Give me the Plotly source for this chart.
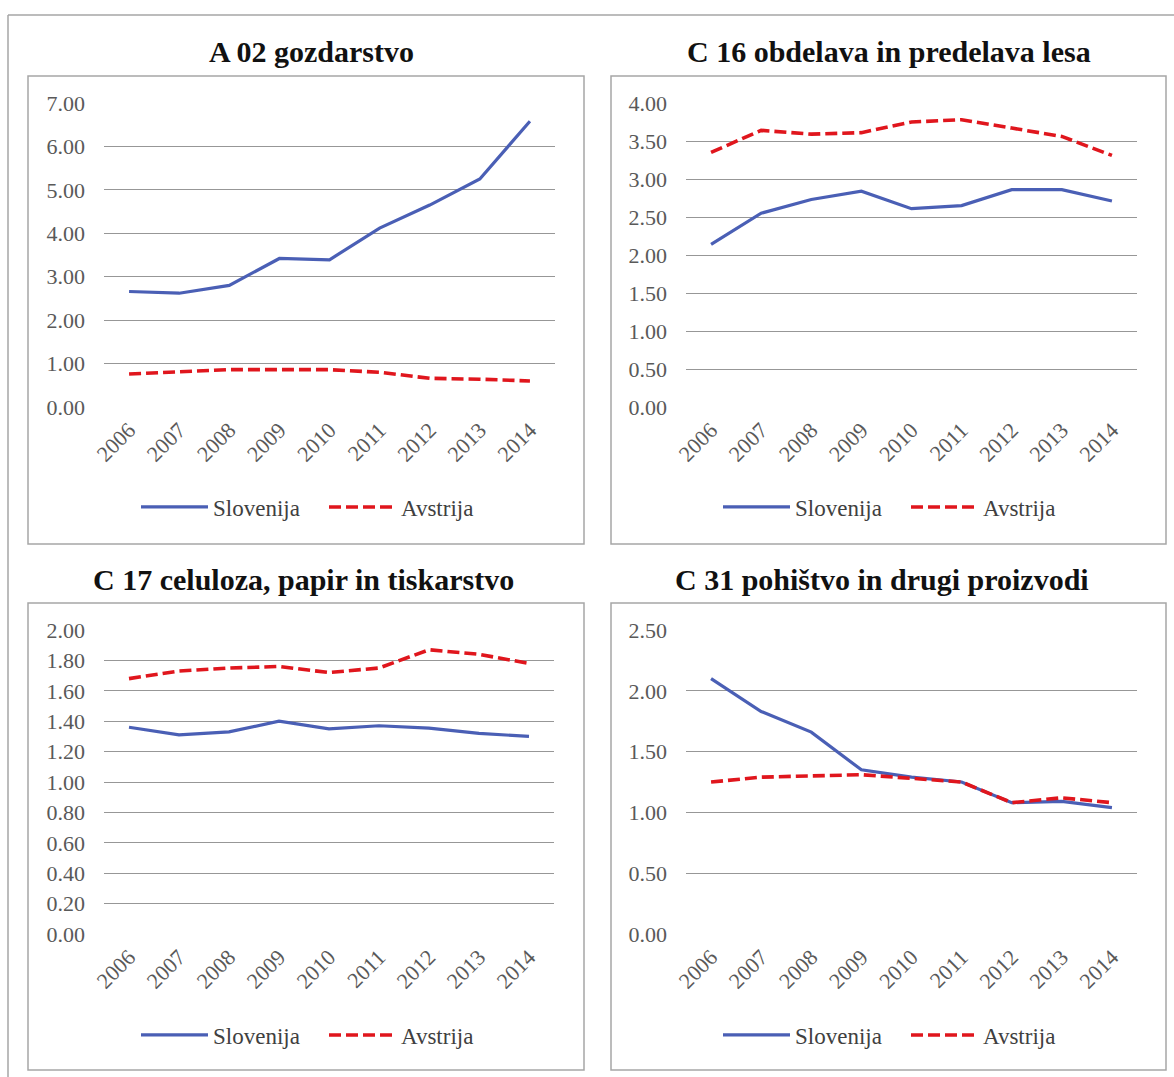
import plotly.graph_objects as go

W, H = 1174, 1077

years = ["2006", "2007", "2008", "2009", "2010", "2011", "2012", "2013", "2014"]
series_names = ["Slovenija", "Avstrija"]

titles = [
    "A 02 gozdarstvo",
    "C 16 obdelava in predelava lesa",
    "C 17 celuloza, papir in tiskarstvo",
    "C 31 pohištvo in drugi proizvodi",
]

# A 02 gozdarstvo
a02_slo = [2.66, 2.62, 2.80, 3.42, 3.39, 4.12, 4.65, 5.25, 6.58]
a02_avt = [0.76, 0.80, 0.86, 0.86, 0.86, 0.80, 0.66, 0.64, 0.60]
# C 16 obdelava in predelava lesa
c16_slo = [2.14, 2.55, 2.73, 2.84, 2.61, 2.65, 2.86, 2.86, 2.71]
c16_avt = [3.35, 3.64, 3.59, 3.61, 3.75, 3.78, 3.67, 3.56, 3.31]
# C 17 celuloza, papir in tiskarstvo
c17_slo = [1.36, 1.31, 1.33, 1.40, 1.35, 1.37, 1.355, 1.32, 1.30]
c17_avt = [1.68, 1.73, 1.75, 1.76, 1.72, 1.75, 1.87, 1.84, 1.78]
# C 31 pohištvo in drugi proizvodi
c31_slo = [2.10, 1.83, 1.66, 1.35, 1.29, 1.25, 1.08, 1.09, 1.04]
c31_avt = [1.25, 1.29, 1.30, 1.31, 1.28, 1.25, 1.08, 1.12, 1.08]

y_max = [7, 4, 2, 2.5]
y_step = [1, 0.5, 0.2, 0.5]

data = [(a02_slo, a02_avt), (c16_slo, c16_avt), (c17_slo, c17_avt), (c31_slo, c31_avt)]

# layout geometry in pixels
plot_px = [  # x0, x1, ytop, ybottom
    (104, 555, 103, 407),
    (686, 1137, 103, 407),
    (104, 554, 630, 934),
    (686, 1137, 630, 934),
]
box_px = [
    (28, 76, 584, 544),
    (611, 76, 1166, 544),
    (28, 603, 584, 1070),
    (611, 603, 1166, 1070),
]
title_px = [(311, 52), (889, 52), (303, 579), (882, 579)]
legend_px = [(136, 507), (718, 507), (136, 1035), (718, 1035)]

FONT = "Liberation Serif, Times New Roman, serif"
BLUE = "#4a5fb5"
RED = "#e0161d"


def fx(px):
    return px / W


def fy(py):
    return 1 - py / H


fig = go.Figure()
layout = dict(
    width=W, height=H,
    margin=dict(l=0, r=0, t=0, b=0),
    paper_bgcolor="white", plot_bgcolor="white",
    font=dict(family=FONT, color="#595959", size=22),
    shapes=[], annotations=[],
)

for i in range(4):
    n = "" if i == 0 else str(i + 1)
    slo, avt = data[i]
    leg = "legend" if i == 0 else "legend" + str(i + 1)
    fig.add_trace(go.Scatter(
        x=years, y=slo, name=series_names[0], mode="lines",
        line=dict(color=BLUE, width=3.2), xaxis="x" + n, yaxis="y" + n,
        legend=leg,
    ))
    fig.add_trace(go.Scatter(
        x=years, y=avt, name=series_names[1], mode="lines",
        line=dict(color=RED, width=3.6, dash="12px,5px"), xaxis="x" + n, yaxis="y" + n,
        legend=leg,
    ))
    x0, x1, yt, yb = plot_px[i]
    layout["xaxis" + n] = dict(
        domain=[fx(x0), fx(x1)], anchor="y" + n, type="category",
        range=[-0.5, 8.5], showgrid=False, zeroline=False, showline=False,
        tickangle=-45, tickfont=dict(family=FONT, size=22, color="#595959"),
        ticks="", ticklabelstandoff=5, fixedrange=True, automargin=False,
    )
    layout["yaxis" + n] = dict(
        domain=[fy(yb), fy(yt)], anchor="x" + n, range=[0, y_max[i]],
        dtick=y_step[i], tick0=0, tickformat=".2f", showgrid=True,
        gridcolor="#979797", gridwidth=1, zeroline=False, showline=False,
        tickfont=dict(family=FONT, size=22, color="#595959"),
        ticks="", ticklabelstandoff=18, fixedrange=True, automargin=False,
    )
    lx, ly = legend_px[i]
    layout[leg] = dict(
        orientation="h", x=fx(lx), y=fy(ly), xanchor="left", yanchor="middle",
        font=dict(family=FONT, size=23, color="#404040"), bgcolor="rgba(0,0,0,0)",
        itemwidth=67, entrywidth=106, entrywidthmode="pixels", tracegroupgap=0,
    )
    bx0, by0, bx1, by1 = box_px[i]
    layout["shapes"].append(dict(
        type="rect", xref="paper", yref="paper",
        x0=fx(bx0), x1=fx(bx1), y0=fy(by1), y1=fy(by0),
        line=dict(color="#a6a6a6", width=1.5), layer="below",
    ))
    tx, ty = title_px[i]
    layout["annotations"].append(dict(
        text="<b>" + titles[i] + "</b>", xref="paper", yref="paper",
        x=fx(tx), y=fy(ty), xanchor="center", yanchor="middle", showarrow=False,
        font=dict(family=FONT, size=30, color="#111111"),
    ))

# outer frame (left and top edges visible)
layout["shapes"].append(dict(type="line", xref="paper", yref="paper",
                             x0=fx(8), x1=1, y0=fy(15), y1=fy(15),
                             line=dict(color="#a6a6a6", width=1.5)))
layout["shapes"].append(dict(type="line", xref="paper", yref="paper",
                             x0=fx(8), x1=fx(8), y0=0, y1=fy(15),
                             line=dict(color="#a6a6a6", width=1.5)))

fig.update_layout(**layout)
fig.write_html(
    "out.html",
    config={"displayModeBar": False},
    post_script="document.body.style.margin='0';document.body.style.padding='0';"
                "document.body.style.overflow='hidden';",
)
